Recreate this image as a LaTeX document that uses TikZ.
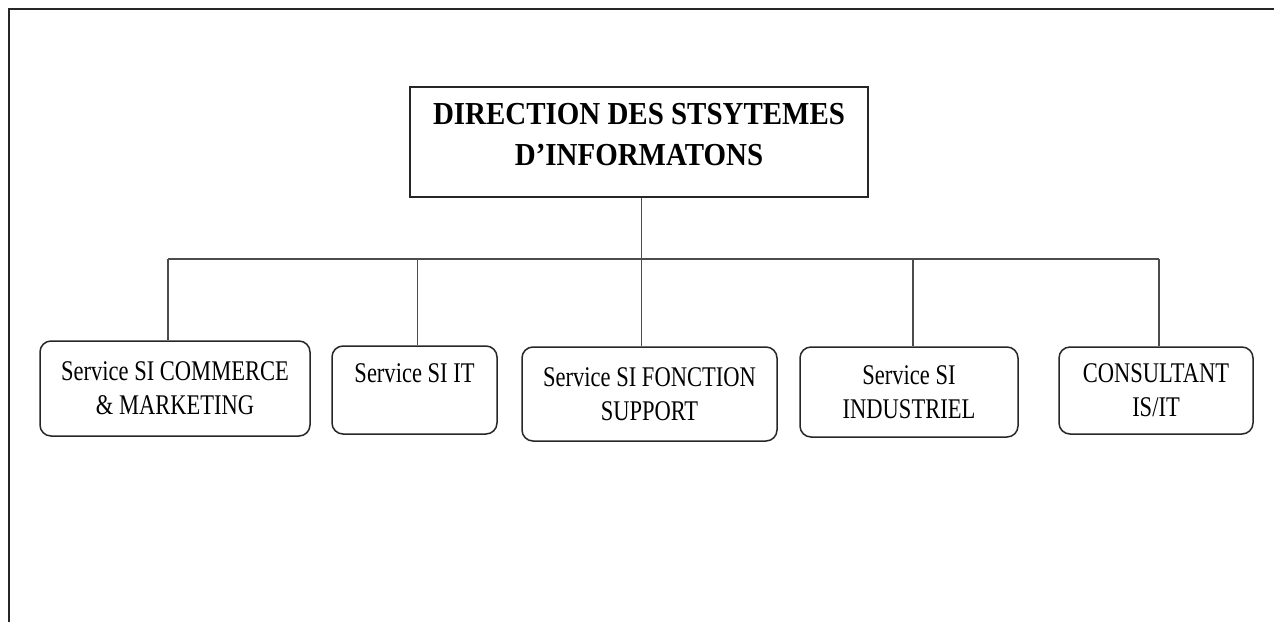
\documentclass[tikz,border=0pt]{standalone}
\usepackage{fontspec}
\setmainfont{Liberation Serif}
\newfontfamily\boxfont[FakeStretch=0.79]{Liberation Serif}
\newfontfamily\headfont[FakeStretch=0.905]{Liberation Serif}
\usepackage{tikz}

\begin{document}
\begin{tikzpicture}[x=1pt, y=-1pt]
    \tikzset{service/.style = {shape=rectangle, draw=black!85, line width=1.5pt, rounded corners=11pt, align=center, inner sep=0pt, font=\boxfont\fontsize{28.5}{34}\selectfont}}
    \tikzset{direction/.style = {shape=rectangle, draw=black!85, line width=2pt, align=center, inner sep=0pt, font=\headfont\bfseries\fontsize{32}{41}\selectfont}}
    \tikzset{link/.style = {draw=black!70, line width=1.1pt, -}}

    \useasboundingbox (0,0) rectangle (1274,622);
    \draw[line width=2.5pt, black!85] (9,622) -- (9,9) -- (1274,9);

    % vertices
    \node[direction, minimum width=458pt, minimum height=110pt, text depth=16pt] (t) at (639,142) {DIRECTION DES STSYTEMES\\D’INFORMATONS};
    \node[service, minimum width=270pt, minimum height=95pt] (a) at (175,388.5) {Service SI COMMERCE\\\& MARKETING};
    \node[service, minimum width=165pt, minimum height=88pt] (b) at (414.5,390) {Service SI IT\\~};
    \node[service, minimum width=255pt, minimum height=94pt] (c) at (649.5,394) {Service SI FONCTION\\SUPPORT};
    \node[service, minimum width=218pt, minimum height=90pt] (d) at (909,392) {Service SI\\INDUSTRIEL};
    \node[service, minimum width=194pt, minimum height=87pt] (e) at (1156,390.5) {CONSULTANT\\IS/IT};

    \coordinate (ja) at (168,259);
    \coordinate (jb) at (417.7,259);
    \coordinate (jc) at (641.7,259);
    \coordinate (jd) at (913,259);
    \coordinate (je) at (1159,259);

    % edges
    \draw[link] (jc |- t.south) -- (jc);
    \draw[link] (ja) -- (je);
    \draw[link] (ja) -- (ja |- a.north);
    \draw[link] (jb) -- (jb |- b.north);
    \draw[link] (jc) -- (jc |- c.north);
    \draw[link] (jd) -- (jd |- d.north);
    \draw[link] (je) -- (je |- e.north);
\end{tikzpicture}
\end{document}
